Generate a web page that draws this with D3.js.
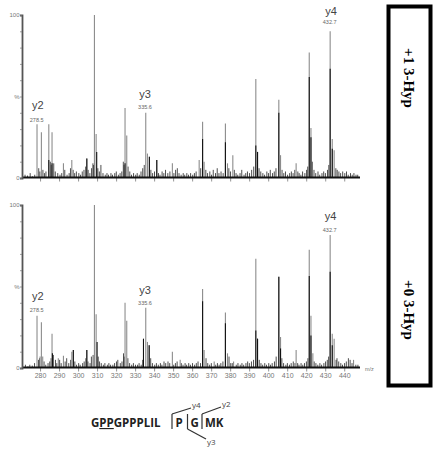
<!DOCTYPE html>
<html><head><meta charset="utf-8">
<script src="https://cdn.jsdelivr.net/npm/d3@7"></script>
<style>body{margin:0;background:#fff}svg{display:block}</style>
</head><body>
<svg id="c" width="435" height="456"></svg>
<script>
// ---- data ----
const mzTicks = [280,290,300,310,320,330,340,350,360,370,380,390,400,410,420,430,440];
const panelNames = ["+1 3-Hyp", "+0 3-Hyp"];
const ionLabels = [["y2","278.5",278.4],["y3","335.6",335.6],["y4","432.7",432.6]];

// major peaks [m/z, % intensity] (gray trace)
const topPeaks = [[278.4,33],[280.7,28],[284.6,33],[286.3,28],[292.3,9],[296.7,11],[304.6,12],[308.6,100],[309.5,27],
 [324.7,43],[325.6,26],[335.6,40],[336.5,15],[337.5,13],[341.4,11],[349.6,9],[363.7,11],[365.5,34.5],[366.3,10],
 [377.5,33.5],[378.6,9],[381.4,14],[393.5,60.7],[394.4,16],[405.6,48],[406.5,14],[414.7,9],[421.6,77],[422.5,30.6],
 [432.6,90],[433.7,24],[434.7,17]];
// darker overlaid trace
const topDark = [[284.6,11],[286.3,9],[304.6,12],[309.8,16],[324.7,9],[337.5,13],[341.4,11],[365.5,24],[377.5,22],
 [393.5,20],[394.4,16],[405.6,40],[421.6,62],[422.5,25],[432.6,67],[433.7,18]];

const botPeaks = [[278.4,32],[280.0,7],[280.7,28],[281.4,7],[286.3,21],[289.6,6],[292.3,7.5],[296.7,10],[297.5,11],
 [304.6,11],[308.6,100],[309.5,33],[324.7,40],[325.6,29],[335.6,37],[336.5,16],[337.4,14],[349.6,10],[353.7,5],
 [365.5,48.5],[366.3,11],[371.6,4],[377.5,34],[378.6,9],[381.8,4],[393.5,67],[394.4,18],[405.6,56],[406.5,19],
 [414.7,11],[421.6,72.5],[422.5,32],[423.5,9],[432.6,81.6],[433.7,21],[434.7,18],[444.9,5]];
const botDark = [[286.5,9],[297.5,11],[304.6,11],[310.0,16],[334.4,18],[337.4,14],[365.5,41],[377.5,27.5],
 [393.5,23],[394.4,18],[405.6,56],[406.5,12],[421.6,56.5],[422.5,20],[432.6,59],[433.7,14]];

// small noise peaks [m/z, %]
const topNoise = [[272.1,2],[273.4,1.5],[274.8,3],[276.0,1],[277.2,2],[279.3,6],[279.9,4],[281.5,5],[282.3,3],[283.1,4],
 [285.4,10],[285.9,8],[287.2,9],[288.0,4],[289.3,3],[290.5,2],[291.4,3],[293.0,5],[294.2,2],[295.3,3],[296.0,6],[297.4,5],
 [298.2,3],[299.1,4],[300.4,3],[301.3,2],[302.2,4],[303.1,5],[304.0,7],[305.3,5],[306.2,3],[307.1,6],[307.8,9],[308.1,8],
 [310.4,6],[311.2,4],[312.0,8],[313.1,3],[314.3,2],[315.2,3],[316.0,2],[317.3,3],[318.1,2],[319.3,3],[320.1,4],[321.2,2],
 [322.1,3],[323.0,4],[323.8,10],[324.2,8],[326.3,7],[327.2,4],[328.1,2],[329.2,3],[330.3,2],[331.1,3],[332.2,2],[333.1,4],
 [334.0,6],[334.8,8],[338.3,5],[339.2,3],[340.2,4],[342.3,3],[343.1,2],[344.2,4],[345.1,3],[346.0,5],[347.2,3],[348.3,4],
 [350.4,3],[351.3,5],[352.2,6],[353.1,3],[354.2,2],[355.3,3],[356.1,2],[357.2,3],[358.1,2],[359.2,3],[360.3,2],[361.2,3],
 [362.1,4],[364.5,6],[367.2,5],[368.1,3],[369.3,4],[370.2,2],[371.1,5],[372.3,3],[373.2,6],[374.1,3],[375.2,4],[376.3,3],
 [379.3,6],[380.2,4],[382.2,5],[383.1,3],[384.0,2],[385.2,3],[386.1,5],[387.3,2],[388.2,3],[389.1,4],[390.2,3],[391.3,5],
 [392.4,7],[395.2,6],[396.1,4],[397.2,3],[398.1,2],[399.3,4],[400.2,3],[401.1,5],[402.3,3],[403.2,4],[404.1,6],[407.3,5],
 [408.2,3],[409.1,4],[410.2,2],[411.3,3],[412.2,4],[413.1,3],[414.0,5],[415.6,4],[416.3,3],[417.2,2],[418.1,4],[419.3,3],
 [420.2,5],[420.8,7],[423.2,10],[424.1,5],[425.0,3],[426.2,4],[427.1,2],[428.3,3],[429.2,4],[430.1,3],[431.2,5],[431.9,8],
 [435.6,6],[436.3,5],[437.2,4],[438.1,3],[439.2,4],[440.3,3],[441.2,4],[442.1,2],[443.3,3],[444.2,2],[445.1,3],[446.2,2],[447.1,2]];
const botNoise = [[272.3,2],[273.6,1],[274.6,2],[275.9,1.5],[277.1,3],[279.2,5],[279.7,6],[282.1,4],[283.0,2],[284.2,3],
 [285.1,4],[285.8,6],[287.0,8],[288.1,5],[288.8,3],[290.3,5],[291.1,3],[293.2,4],[294.0,6],[295.1,3],[296.1,5],[298.3,4],
 [299.2,2],[300.3,3],[301.1,2],[302.4,3],[303.2,4],[304.1,6],[305.2,4],[306.3,3],[307.0,7],[307.9,8],[310.6,7],[311.3,4],
 [312.2,3],[313.3,2],[314.1,3],[315.4,2],[316.2,3],[317.1,2],[318.3,2],[319.2,3],[320.2,4],[320.9,5],[322.2,3],[323.1,4],
 [323.9,9],[324.3,7],[326.2,6],[327.1,3],[328.2,2],[329.1,3],[330.2,2],[331.3,2],[332.1,3],[333.2,2],[334.0,5],[338.2,6],
 [339.1,3],[340.3,2],[341.2,3],[342.2,2],[343.3,3],[344.1,2],[345.2,4],[346.1,3],[347.3,4],[348.2,3],[350.3,2],[351.2,3],
 [352.1,4],[354.3,3],[355.2,2],[356.3,3],[357.1,2],[358.2,3],[359.1,2],[360.2,3],[361.3,2],[362.2,3],[363.1,4],[364.4,3],
 [367.3,6],[368.2,3],[369.2,2],[370.1,3],[372.4,2],[373.3,3],[374.2,2],[375.1,3],[376.2,4],[379.4,7],[380.3,3],[381.1,3],
 [383.2,2],[384.1,3],[385.3,2],[386.2,3],[387.1,2],[388.3,3],[389.2,4],[390.1,3],[391.2,4],[392.3,5],[395.3,5],[396.2,3],
 [397.1,2],[398.2,3],[399.1,2],[400.3,3],[401.2,2],[402.1,3],[403.3,4],[404.2,7],[407.2,6],[408.1,3],[409.3,2],[410.1,3],
 [411.2,2],[412.1,3],[413.2,4],[414.1,3],[415.5,3],[416.2,2],[417.3,3],[418.2,2],[419.1,3],[420.1,4],[420.9,6],[424.2,4],
 [425.1,3],[426.1,2],[427.2,3],[428.1,2],[429.3,3],[430.2,4],[431.1,5],[431.8,7],[435.7,5],[436.2,6],[437.1,4],[438.2,3],
 [439.1,2],[440.2,3],[441.1,4],[442.2,6],[443.1,5],[444.1,3],[446.1,2],[447.2,2]];

// ---- layout ----
const svg = d3.select("#c");
svg.append("rect").attr("width",435).attr("height",456).attr("fill","#fff");
const x = d3.scaleLinear().domain([270.5, 448.3]).range([22, 360]);
const panels = [
  {top:15, base:178, peaks:topPeaks, dark:topDark, noise:topNoise, labels:true, ticks:false},
  {top:205, base:368, peaks:botPeaks, dark:botDark, noise:botNoise, labels:true, ticks:true}
];
const ionPos = [
  [[37.7,109],[36.7,121.5]],[[145,97.5],[145,109]],[[331,15],[329.7,24.3]]
];
const ionPosB = [
  [[37.7,299.5],[36.7,311.5]],[[145,294],[145,305]],[[330.5,220],[329.7,232]]
];

panels.forEach((p, pi) => {
  const y = d3.scaleLinear().domain([0,100]).range([p.base, p.top]);
  const g = svg.append("g");
  // noise
  g.selectAll("line.n").data(p.noise).join("line")
    .attr("x1", d=>x(d[0])).attr("x2", d=>x(d[0]))
    .attr("y1", y(0)).attr("y2", d=>y(d[1]))
    .attr("stroke","#222").attr("stroke-width",0.8);
  // gray peaks
  g.selectAll("line.p").data(p.peaks).join("line")
    .attr("x1", d=>x(d[0])).attr("x2", d=>x(d[0]))
    .attr("y1", y(0)).attr("y2", d=>y(d[1]))
    .attr("stroke","#8c8c8c").attr("stroke-width",1.1);
  // dark overlay
  g.selectAll("line.d").data(p.dark).join("line")
    .attr("x1", d=>x(d[0])).attr("x2", d=>x(d[0]))
    .attr("y1", y(0)).attr("y2", d=>y(d[1]))
    .attr("stroke","#111").attr("stroke-width",1.1);

  // x axis minor & major ticks
  const xAxisG = g.append("g").attr("transform",`translate(0,${p.base})`);
  xAxisG.call(d3.axisBottom(x).tickValues(d3.range(272,449,2)).tickSize(2).tickFormat(""));
  xAxisG.call(d3.axisBottom(x).tickValues(mzTicks).tickSize(3.5)
      .tickFormat(p.ticks ? d3.format("d") : ""));
  xAxisG.select(".domain").remove();
  xAxisG.selectAll("line").attr("stroke","#666").attr("stroke-width",0.7);
  xAxisG.selectAll("text").attr("fill","#777").attr("font-size","7px")
     .attr("font-family","Liberation Sans, Arial, sans-serif").attr("dy","0.55em");
  // baseline (dense noise floor)
  g.append("line").attr("x1",22).attr("x2",360).attr("y1",p.base-0.5).attr("y2",p.base-0.5)
    .attr("stroke","#111").attr("stroke-width",2.2);

  // y axis
  const yAxisG = g.append("g").attr("transform","translate(22,0)");
  yAxisG.call(d3.axisLeft(y).tickValues(d3.range(0,101,10)).tickSize(2)
     .tickFormat(d => d===0||d===100 ? d : (d===50 ? "%" : "")));
  yAxisG.select(".domain").attr("stroke","#555").attr("stroke-width",1.8);
  yAxisG.selectAll("line").attr("stroke","#777").attr("stroke-width",0.7);
  yAxisG.selectAll("text").attr("fill","#777").attr("font-size","6px")
     .attr("font-family","Liberation Sans, Arial, sans-serif").attr("x",-2.5);

  // ion labels
  const pos = pi===0 ? ionPos : ionPosB;
  ionLabels.forEach((L,i) => {
    g.append("text").attr("x",pos[i][0][0]).attr("y",pos[i][0][1]).attr("text-anchor","middle")
      .attr("font-family","Liberation Sans, Arial, sans-serif").attr("font-size","11px").attr("fill","#444").text(L[0]);
    g.append("text").attr("x",pos[i][1][0]).attr("y",pos[i][1][1]).attr("text-anchor","middle")
      .attr("font-family","Liberation Sans, Arial, sans-serif").attr("font-size","5.5px").attr("fill","#666").text(L[1]);
  });
  if (p.ticks) {
    g.append("text").attr("x",365).attr("y",p.base+2.5).attr("font-size","5.5px").attr("fill","#777")
      .attr("font-family","Liberation Sans, Arial, sans-serif").text("m/z");
  }
});

// right box
svg.append("rect").attr("x",388.5).attr("y",6.5).attr("width",42).attr("height",379)
  .attr("fill","none").attr("stroke","#000").attr("stroke-width",4);
[[409,78],[409,310]].forEach((c,i) => {
  svg.append("text").attr("transform",`translate(${c[0]},${c[1]}) rotate(90)`)
    .attr("text-anchor","middle").attr("dy","0.35em")
    .attr("font-family","Liberation Serif, Times New Roman, serif").attr("font-weight","bold")
    .attr("font-size","15px").attr("fill","#000").text(panelNames[i]);
});

// peptide scheme
const pep = svg.append("g").attr("font-family","Open Sans, sans-serif").attr("font-weight","bold")
  .attr("font-size","11.5px").attr("fill","#222");
const t = pep.append("text").attr("x",91).attr("y",427);
t.append("tspan").text("G");
t.append("tspan").attr("text-decoration","underline").text("PP");
t.append("tspan").text("GPPPLIL");
pep.append("text").attr("x",175.5).attr("y",427).text("P");
pep.append("text").attr("x",190.5).attr("y",427).text("G");
pep.append("text").attr("x",205).attr("y",427).text("MK");
const ln = (x1,y1,x2,y2) => svg.append("line").attr("x1",x1).attr("y1",y1).attr("x2",x2).attr("y2",y2)
  .attr("stroke","#333").attr("stroke-width",1.2);
ln(172,429,172,414); ln(172,414,191,408);
ln(187.5,414,187.5,429); ln(187.5,429,206,439);
ln(202,429,202,414); ln(202,414,221,407);
const small = (xx,yy,s) => svg.append("text").attr("x",xx).attr("y",yy).attr("font-family","Open Sans, sans-serif")
  .attr("font-size","8px").attr("fill","#444").text(s);
small(192,408,"y4"); small(222,407,"y2"); small(207,445,"y3");
</script>
</body></html>
